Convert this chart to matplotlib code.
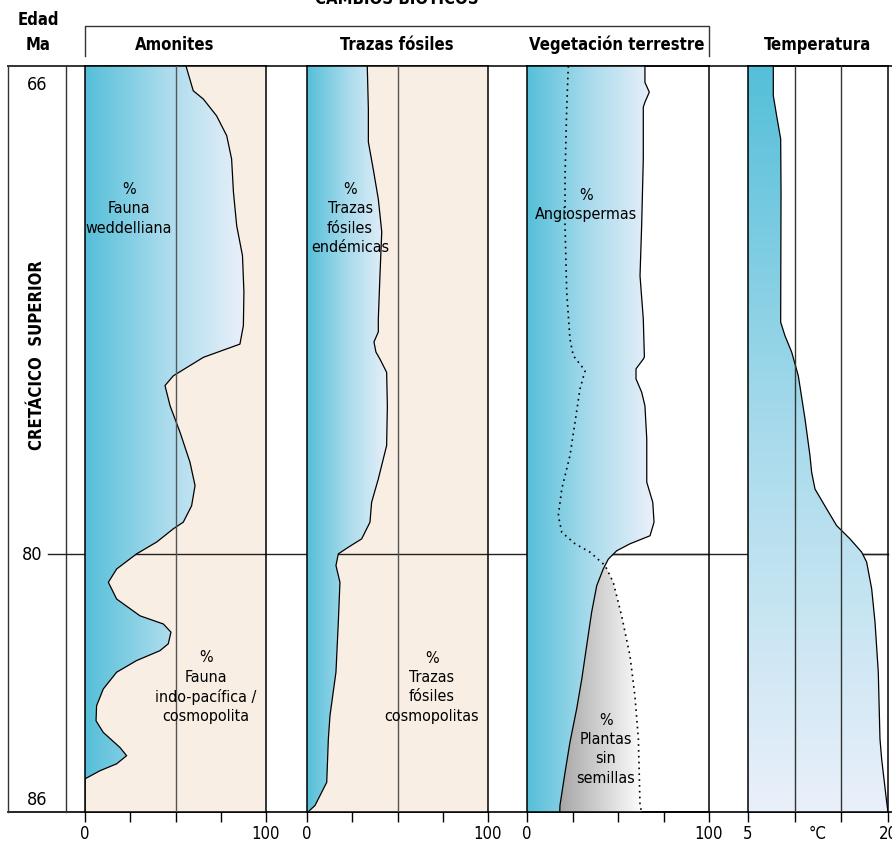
import numpy as np
import matplotlib.pyplot as plt
from matplotlib.colors import LinearSegmentedColormap
from matplotlib.patches import Polygon

plt.rcParams["font.family"] = ["DejaVu Sans"]
plt.rcParams["font.stretch"] = "condensed"

# --- data (age in Ma, values in % or °C) ---
amon_age = [66.0, 66.71, 66.95, 67.43, 68.0, 68.67, 69.61, 70.58, 71.44, 72.48, 73.45,
            73.98, 74.36, 74.89, 75.17, 75.75, 76.51, 77.37, 78.04, 78.62, 79.09, 79.28,
            79.66, 80.0, 80.35, 80.66, 81.05, 81.44, 81.63, 81.82, 82.09, 82.25, 82.48,
            82.75, 83.14, 83.53, 83.88, 84.15, 84.5, 84.69, 84.88, 85.04, 85.23, 86.0]
amon_weddell = [55.8, 59.8, 65.4, 72.7, 78.3, 81, 82, 83.8, 87, 87.8, 87.5,
                85.6, 65.4, 48.8, 44.2, 47, 52.5, 58, 60.8, 58.9, 54.3, 48.8,
                39.6, 28.5, 17.5, 12.9, 17.5, 30.4, 43.3, 47.5, 46, 41.4, 28.5,
                17.5, 10.1, 6.4, 6.1, 10.1, 19.3, 23, 17.5, 8.3, 0, 0]

traz_age = [66.0, 67.23, 68.18, 68.96, 69.82, 70.76, 72.02, 73.26, 73.63, 73.92, 74.21,
            74.41, 74.79, 75.75, 76.89, 77.85, 78.52, 79.09, 79.57, 79.81, 80.0, 80.27,
            80.66, 81.59, 82.75, 83.76, 84.30, 85.31, 85.85, 86.0]
traz_endem = [33.3, 33.9, 33.9, 36.6, 39.4, 41.3, 40.3, 39.4, 39.4, 37, 38.1,
              40.3, 44, 44.4, 44, 39.4, 35.7, 34.8, 30.2, 22.8, 17.3, 16,
              18.2, 17.3, 16, 12.7, 11.8, 10.9, 4.4, 0.5]

veg_age = [66.0, 66.47, 66.75, 67.04, 67.18, 68.67, 70.58, 72.02, 73.26, 74.35, 74.41,
           74.69, 74.98, 75.36, 75.75, 76.70, 77.94, 78.52, 79.09, 79.48, 79.71, 79.91,
           80.12, 80.35, 80.74, 81.36, 82.13, 82.91, 83.60, 84.38, 85.08, 85.85, 86.0]
veg_angio = [64.8, 64.8, 67.2, 64.8, 63.9, 63.9, 63.0, 62.1, 63.9, 64.5, 63.9,
             59.9, 59.9, 63.0, 64.8, 65.8, 65.8, 69.1, 69.8, 67.6, 56.6, 49.3,
             44.7, 41.9, 38.3, 35.5, 32.8, 30.1, 27.3, 23.6, 20.9, 18.1, 18.0]

dot_age = [66.0, 67.23, 69.15, 70.58, 72.48, 73.83, 74.31, 74.74, 75.27, 76.22, 77.18,
           78.14, 78.90, 79.38, 79.71, 79.95, 80.27, 80.66, 81.44, 82.37, 83.30, 84.30,
           85.85, 86.0]
dot_pct = [22.7, 21.8, 20.9, 20.9, 21.8, 23.6, 25.4, 31.9, 29.1, 26.4, 23.6,
           19.1, 17.2, 19.1, 26.4, 34.6, 42.9, 47.4, 52.0, 56.6, 59.3, 61.2,
           62.1, 63.0]

temp_age = [66.0, 66.85, 67.43, 68.09, 69.62, 73.35, 73.74, 74.21, 74.89, 76.13, 77.18,
            77.66, 78.14, 78.71, 79.19, 79.57, 79.95, 80.19, 80.81, 81.59, 82.75, 84.30,
            84.77, 85.77, 86.0]
temp_c = [7.71, 7.71, 8.07, 8.5, 8.54, 8.5, 8.96, 9.68, 10.39, 11.11, 11.64,
          11.82, 12.18, 13.43, 14.5, 15.93, 17.18, 17.71, 18.25, 18.61, 18.96, 19.14,
          19.32, 19.86, 20.0]

# schematic age axis: 66-80 Ma takes the upper part, 80-86 Ma the lower part
BREAK = 0.654


def fwd(a):
    a = np.asarray(a, dtype=float)
    return np.where(a <= 80, (a - 66) / 14 * BREAK, BREAK + (a - 80) / 6 * (1 - BREAK))


def inv(p):
    p = np.asarray(p, dtype=float)
    return np.where(p <= BREAK, 66 + p / BREAK * 14, 80 + (p - BREAK) / (1 - BREAK) * 6)


W, H = 892, 845
TOP, BOT = 67, 813
blue = LinearSegmentedColormap.from_list("blue", ["#55bfd9", "#a9dbec", "#eaf0fa"])
grey = LinearSegmentedColormap.from_list("grey", ["#a0a0a0", "#ffffff"])
beige = "#f8eee4"
grad_h = np.linspace(0, 1, 256).reshape(1, -1)
grad_v = np.linspace(0, 1, 256).reshape(-1, 1)

fig = plt.figure(figsize=(W / 100, H / 100), dpi=100)

bg = fig.add_axes([0, 0, 1, 1], zorder=0)
bg.set_xlim(0, W)
bg.set_ylim(H, 0)
bg.axis("off")
bg.plot([8, 892], [TOP, TOP], color="#333333", lw=1.4)
bg.plot([8, 892], [BOT, BOT], color="black", lw=1.2)
bg.plot([8, 8], [TOP, BOT], color="#333333", lw=1)
bg.plot([66, 66], [TOP, BOT], color="#333333", lw=1)
bg.plot([48, 888], [555, 555], color="#222222", lw=1)
bg.plot([85, 85, 709, 709], [57, 27, 27, 57], color="#333333", lw=1)
bold = dict(fontsize=12, fontweight="bold", ha="center", va="center")
bg.text(397, 8, "CAMBIOS BIÓTICOS", fontsize=12, fontweight="bold", ha="center", va="bottom")
bg.text(38, 20, "Edad", **bold)
bg.text(38, 45, "Ma", **bold)
bg.text(175, 45, "Amonites", **bold)
bg.text(397, 45, "Trazas fósiles", **bold)
bg.text(617, 45, "Vegetación terrestre", **bold)
bg.text(818, 45, "Temperatura", **bold)
bg.text(37, 355, "CRETÁCICO  SUPERIOR", rotation=90, **bold)
for lab, y in [("66", 85), ("80", 555), ("86", 800)]:
    bg.text(37 if lab != "80" else 32, y, lab, fontsize=13, ha="center", va="center")


def panel(x0, x1):
    ax = fig.add_axes([x0 / W, 1 - BOT / H, (x1 - x0) / W, (BOT - TOP) / H], zorder=1)
    ax.set_facecolor("none")
    ax.set_yscale("function", functions=(fwd, inv))
    ax.tick_params(axis="y", left=False, labelleft=False)
    ax.tick_params(axis="x", length=7, width=1, pad=2, labelsize=12)
    for s in ax.spines.values():
        s.set_color("black")
        s.set_linewidth(1.1)
    ax.axhline(80, color="#222222", lw=1, zorder=1)
    return ax


def shade(ax, x, age, x0, cmap, gx, vertical=False):
    verts = [(x0, age[0])] + list(zip(x, age)) + [(x0, age[-1])]
    clip = Polygon(verts, closed=True, facecolor="none", edgecolor="none")
    ax.add_patch(clip)
    if vertical:
        im = ax.imshow(grad_v, cmap=cmap, extent=(0, 1, 0, 1), transform=ax.transAxes,
                       aspect="auto", origin="upper", zorder=2)
    else:
        im = ax.imshow(grad_h, cmap=cmap, extent=(gx[0], gx[1], 0, 1), transform=ax.transAxes,
                       aspect="auto", zorder=2)
    im.set_clip_path(clip)


def finish(ax, xlim):
    ax.set_xlim(*xlim)
    ax.set_ylim(86, 66)


txt = dict(fontsize=11.5, ha="center", va="center", linespacing=1.35, zorder=5)

# Amonites
ax1 = panel(85, 266)
ax1.axvspan(0, 100, color=beige, zorder=0.5, lw=0)
shade(ax1, amon_weddell, amon_age, 0, blue, (0, 0.88))
ax1.plot(amon_weddell, amon_age, color="black", lw=0.9, zorder=3)
ax1.axvline(50, color="#555555", lw=1, zorder=3.5)
ax1.set_xticks([0, 25, 50, 75, 100], ["0", "", "", "", "100"])
ax1.text(24.3, 70.07, "%\nFauna\nweddelliana", **txt)
ax1.text(66.9, 83.08, "%\nFauna\nindo-pacífica /\ncosmopolita", **txt)
finish(ax1, (0, 100))

# Trazas fósiles
ax2 = panel(307, 488)
ax2.axvspan(0, 100, color=beige, zorder=0.5, lw=0)
shade(ax2, traz_endem, traz_age, 0, blue, (0, 0.45))
ax2.plot(traz_endem, traz_age, color="black", lw=0.9, zorder=3)
ax2.axvline(50, color="#555555", lw=1, zorder=3.5)
ax2.set_xticks([0, 25, 50, 75, 100], ["0", "", "", "", "100"])
ax2.text(23.8, 70.35, "%\nTrazas\nfósiles\nendémicas", **txt)
ax2.text(69, 83.08, "%\nTrazas\nfósiles\ncosmopolitas", **txt)
finish(ax2, (0, 100))

# Vegetación terrestre
ax3 = panel(527, 709)
shade(ax3, veg_angio, veg_age, 0, blue, (0, 0.69))
grid = np.linspace(80, 86, 300)
a = np.interp(grid, veg_age, veg_angio)
d = np.interp(grid, dot_age, dot_pct)
m = d > a
gverts = list(zip(a[m], grid[m])) + list(zip(d[m][::-1], grid[m][::-1]))
gclip = Polygon(gverts, closed=True, facecolor="none", edgecolor="none")
ax3.add_patch(gclip)
gim = ax3.imshow(grad_h, cmap=grey, extent=(0.15, 0.64, 0, 1), transform=ax3.transAxes,
                 aspect="auto", zorder=2)
gim.set_clip_path(gclip)
ax3.plot(veg_angio, veg_age, color="black", lw=0.9, zorder=3)
ax3.plot(dot_pct, dot_age, color="black", lw=1.2, ls=(0, (1, 2.5)), zorder=3)
ax3.set_xticks([0, 25, 50, 75, 100], ["0", "", "", "", "100"])
ax3.text(32.4, 69.96, "%\nAngiospermas", **txt)
ax3.text(43.4, 84.52, "%\nPlantas\nsin\nsemillas", **txt)
finish(ax3, (0, 100))

# Temperatura
ax4 = panel(748, 888)
shade(ax4, temp_c, temp_age, 5, blue, None, vertical=True)
ax4.plot(temp_c, temp_age, color="black", lw=0.9, zorder=3)
ax4.axvline(10, color="#333333", lw=1, zorder=3.5)
ax4.axvline(15, color="#333333", lw=1, zorder=3.5)
ax4.set_xticks([5, 10, 15, 20], ["5", "", "", "20"])
ax4.set_xticks([12.5], ["°C"], minor=True)
ax4.tick_params(axis="x", which="minor", length=0, pad=9, labelsize=12)
finish(ax4, (5, 20))

fig.savefig("out.png", dpi=100)
